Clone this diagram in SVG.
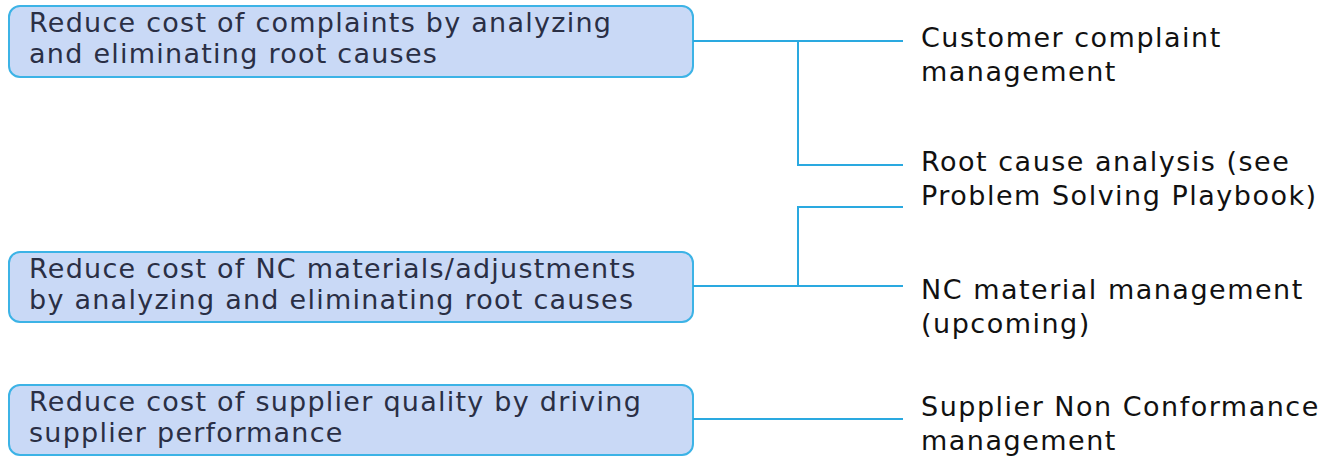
<svg xmlns="http://www.w3.org/2000/svg" width="1330" height="459" viewBox="0 0 1330 459">
<style>
.box{fill:#c9d9f6;stroke:#3cb3e6;stroke-width:2}
.bt{font-family:"DejaVu Sans",Verdana,sans-serif;font-size:27px;letter-spacing:1.25px;fill:#2a2f45}
.rt{font-family:"DejaVu Sans",Verdana,sans-serif;font-size:27px;letter-spacing:1.5px;fill:#111111}
.con{fill:none;stroke:#2aa9e0;stroke-width:2}
</style>
<rect width="1330" height="459" fill="#ffffff"/>
<g id="goal1"><rect class="box" x="9" y="6" width="684" height="71" rx="11"/><text class="bt" x="29" y="32">Reduce cost of complaints by analyzing</text><text class="bt" x="29" y="63">and eliminating root causes</text></g>
<g id="goal2"><rect class="box" x="9" y="252" width="684" height="70" rx="11"/><text class="bt" x="29" y="278">Reduce cost of NC materials/adjustments</text><text class="bt" x="29" y="309">by analyzing and eliminating root causes</text></g>
<g id="goal3"><rect class="box" x="9" y="385" width="684" height="70" rx="11"/><text class="bt" x="29" y="411">Reduce cost of supplier quality by driving</text><text class="bt" x="29" y="442">supplier performance</text></g>
<g id="item1"><text class="rt" x="921" y="47">Customer complaint</text><text class="rt" x="921" y="81">management</text></g>
<g id="item2"><text class="rt" x="921" y="171">Root cause analysis (see</text><text class="rt" x="921" y="205">Problem Solving Playbook)</text></g>
<g id="item3"><text class="rt" x="921" y="299">NC material management</text><text class="rt" x="921" y="333">(upcoming)</text></g>
<g id="item4"><text class="rt" x="921" y="416">Supplier Non Conformance</text><text class="rt" x="921" y="450">management</text></g>
<g id="connectors">
<path class="con" d="M693 41 H903 M798 41 V165 H903"/>
<path class="con" d="M693 286 H903 M798 286 V207 H903"/>
<path class="con" d="M693 419 H903"/>
</g>
</svg>
